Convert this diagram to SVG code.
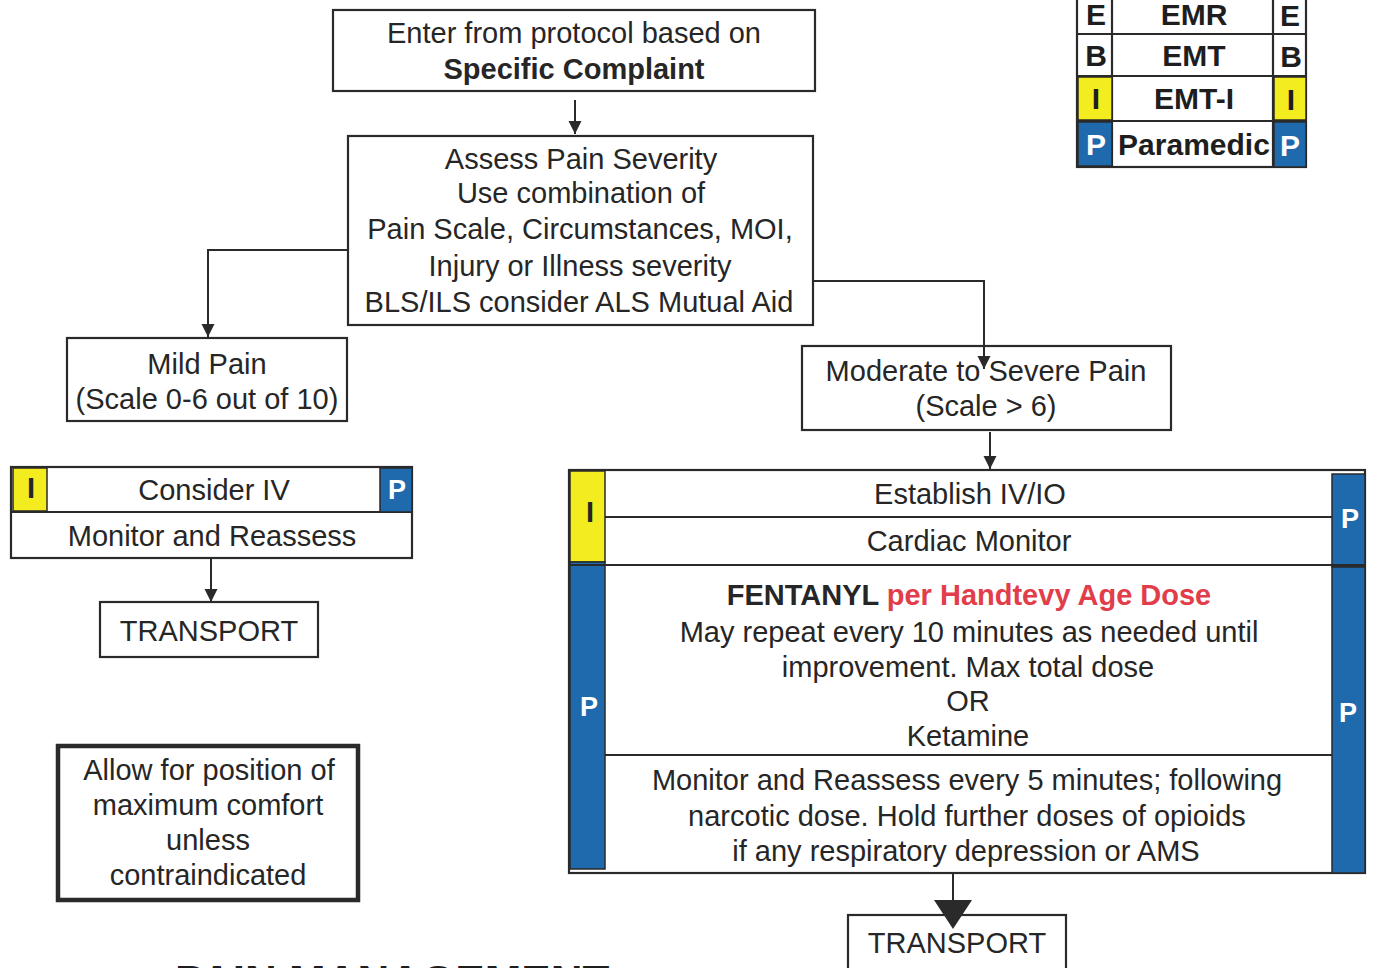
<svg xmlns="http://www.w3.org/2000/svg" width="1373" height="968" viewBox="0 0 1373 968">
  <style>
    text { font-family: "Liberation Sans", Arial, sans-serif; fill: #262626; text-anchor: middle; }
    .t { font-size: 29px; }
    .b { font-weight: bold; }
    .lg { font-size: 30px; font-weight: bold; fill: #1e1e1e; }
    .lgw { font-size: 30px; font-weight: bold; fill: #ffffff; }
    .red { fill: #e23d4a; }
    .wh { fill: #ffffff; font-weight: bold; font-size: 27px; }
    .bx { fill: #ffffff; stroke: #2a2a2a; stroke-width: 2.2; }
    .ln { fill: none; stroke: #2a2a2a; stroke-width: 2.2; }
    .yel { fill: #f3ec1e; stroke: #2a2a2a; stroke-width: 1.5; }
    .blu { fill: #1f6aad; stroke: #2a2a2a; stroke-width: 1.5; }
    .con { fill: none; stroke: #2a2a2a; stroke-width: 2; }
  </style>
  <defs>
    <marker id="ah" viewBox="0 0 14 14" refX="14" refY="7" markerWidth="13" markerHeight="14" markerUnits="userSpaceOnUse" orient="auto">
      <path d="M0,0 L14,7 L0,14 Z" fill="#2a2a2a"/>
    </marker>
  </defs>

  <rect width="1373" height="968" fill="#ffffff"/>

  <!-- certification level key -->
  <g id="legend">
    <rect x="1077" y="-4" width="229" height="171" class="bx"/>
    <line x1="1112" y1="-4" x2="1112" y2="167" class="ln"/>
    <line x1="1273" y1="-4" x2="1273" y2="167" class="ln"/>
    <line x1="1077" y1="34" x2="1306" y2="34" class="ln"/>
    <line x1="1077" y1="76" x2="1306" y2="76" class="ln"/>
    <line x1="1077" y1="121" x2="1306" y2="121" class="ln"/>
    <rect x="1078" y="77" width="34" height="43" class="yel"/>
    <rect x="1274" y="77" width="32" height="43" class="yel"/>
    <rect x="1078" y="122" width="34" height="44" class="blu"/>
    <rect x="1274" y="122" width="32" height="45" class="blu"/>
    <text x="1096" y="25" class="lg">E</text>
    <text x="1290" y="26" class="lg">E</text>
    <text x="1096" y="66" class="lg">B</text>
    <text x="1291" y="67" class="lg">B</text>
    <text x="1096" y="109" class="lg">I</text>
    <text x="1291" y="110" class="lg">I</text>
    <text x="1096" y="155" class="lgw">P</text>
    <text x="1290" y="156" class="lgw">P</text>
    <text x="1194" y="25" class="lg">EMR</text>
    <text x="1194" y="66" class="lg">EMT</text>
    <text x="1194" y="109" class="lg">EMT-I</text>
    <text x="1194" y="155" class="lg">Paramedic</text>
  </g>

  <g id="entry">
    <rect x="333" y="10" width="482" height="81" class="bx"/>
    <text x="574" y="43" class="t">Enter from protocol based on</text>
    <text x="574" y="79" class="t b">Specific Complaint</text>
  </g>

  <g id="assess">
    <rect x="348" y="136" width="465" height="189" class="bx"/>
    <text x="581" y="169" class="t">Assess Pain Severity</text>
    <text x="581" y="203" class="t">Use combination of</text>
    <text x="580" y="239" class="t">Pain Scale, Circumstances, MOI,</text>
    <text x="580" y="276" class="t">Injury or Illness severity</text>
    <text x="579" y="312" class="t">BLS/ILS consider ALS Mutual Aid</text>
  </g>

  <g id="mild">
    <rect x="67" y="338" width="280" height="83" class="bx"/>
    <text x="207" y="374" class="t">Mild Pain</text>
    <text x="207" y="409" class="t">(Scale 0-6 out of 10)</text>
  </g>

  <g id="moderate">
    <rect x="802" y="346" width="369" height="84" class="bx"/>
    <text x="986" y="381" class="t">Moderate to Severe Pain</text>
    <text x="986" y="416" class="t">(Scale &gt; 6)</text>
  </g>

  <g id="mild-care">
    <rect x="11" y="467" width="401" height="91" class="bx"/>
    <line x1="11" y1="512" x2="412" y2="512" class="ln"/>
    <rect x="13" y="468" width="34" height="43" class="yel"/>
    <rect x="380" y="468" width="32" height="44" class="blu"/>
    <text x="31" y="498" class="t b">I</text>
    <text x="397" y="499" class="wh">P</text>
    <text x="214" y="500" class="t">Consider IV</text>
    <text x="212" y="546" class="t">Monitor and Reassess</text>
  </g>

  <g id="transport-mild">
    <rect x="100" y="602" width="218" height="55" class="bx"/>
    <text x="209" y="641" class="t">TRANSPORT</text>
  </g>

  <g id="comfort">
    <rect x="58" y="746" width="300" height="154" fill="#fff" stroke="#2a2a2a" stroke-width="4.5"/>
    <text x="209" y="780" class="t">Allow for position of</text>
    <text x="208" y="815" class="t">maximum comfort</text>
    <text x="208" y="850" class="t">unless</text>
    <text x="208" y="885" class="t">contraindicated</text>
  </g>

  <g id="severe-care">
    <rect x="569" y="470" width="796" height="403" class="bx"/>
    <rect x="570" y="471" width="35" height="91" class="yel"/>
    <rect x="570" y="562" width="35" height="307" class="blu"/>
    <rect x="1332" y="474" width="33" height="93" class="blu"/>
    <rect x="1332" y="567" width="33" height="306" class="blu"/>
    <line x1="605" y1="517" x2="1332" y2="517" class="ln"/>
    <line x1="569" y1="565" x2="1365" y2="565" class="ln" stroke-width="3"/>
    <line x1="605" y1="755" x2="1332" y2="755" class="ln"/>
    <text x="590" y="522" class="t b">I</text>
    <text x="1350" y="528" class="wh">P</text>
    <text x="589" y="716" class="wh">P</text>
    <text x="1348" y="722" class="wh">P</text>
    <text x="970" y="504" class="t">Establish IV/IO</text>
    <text x="969" y="551" class="t">Cardiac Monitor</text>
    <text x="969" y="605" class="t b">FENTANYL <tspan class="red">per Handtevy Age Dose</tspan></text>
    <text x="969" y="642" class="t">May repeat every 10 minutes as needed until</text>
    <text x="968" y="677" class="t">improvement. Max total dose</text>
    <text x="968" y="711" class="t">OR</text>
    <text x="968" y="746" class="t">Ketamine</text>
    <text x="967" y="790" class="t">Monitor and Reassess every 5 minutes; following</text>
    <text x="967" y="826" class="t">narcotic dose. Hold further doses of opioids</text>
    <text x="966" y="861" class="t">if any respiratory depression or AMS</text>
  </g>

  <g id="transport-severe">
    <rect x="848" y="915" width="218" height="70" class="bx"/>
    <text x="957" y="953" class="t">TRANSPORT</text>
  </g>

  <!-- connectors drawn last so arrow tips sit over box edges -->
  <g id="connectors">
    <line x1="575" y1="100" x2="575" y2="134" class="con" marker-end="url(#ah)"/>
    <polyline points="348,250 208,250 208,337" class="con" marker-end="url(#ah)"/>
    <polyline points="813,281 984,281 984,369" class="con" marker-end="url(#ah)"/>
    <line x1="990" y1="432" x2="990" y2="469" class="con" marker-end="url(#ah)"/>
    <line x1="211" y1="558" x2="211" y2="602" class="con" marker-end="url(#ah)"/>
    <line x1="953" y1="874" x2="953" y2="902" class="con"/>
    <path d="M934,900 L972,900 L953,929 Z" fill="#2a2a2a"/>
  </g>

  <text x="175" y="997" style="text-anchor:start;font-size:44px;font-weight:bold;fill:#1e1e1e">PAIN MANAGEMENT</text>
</svg>
